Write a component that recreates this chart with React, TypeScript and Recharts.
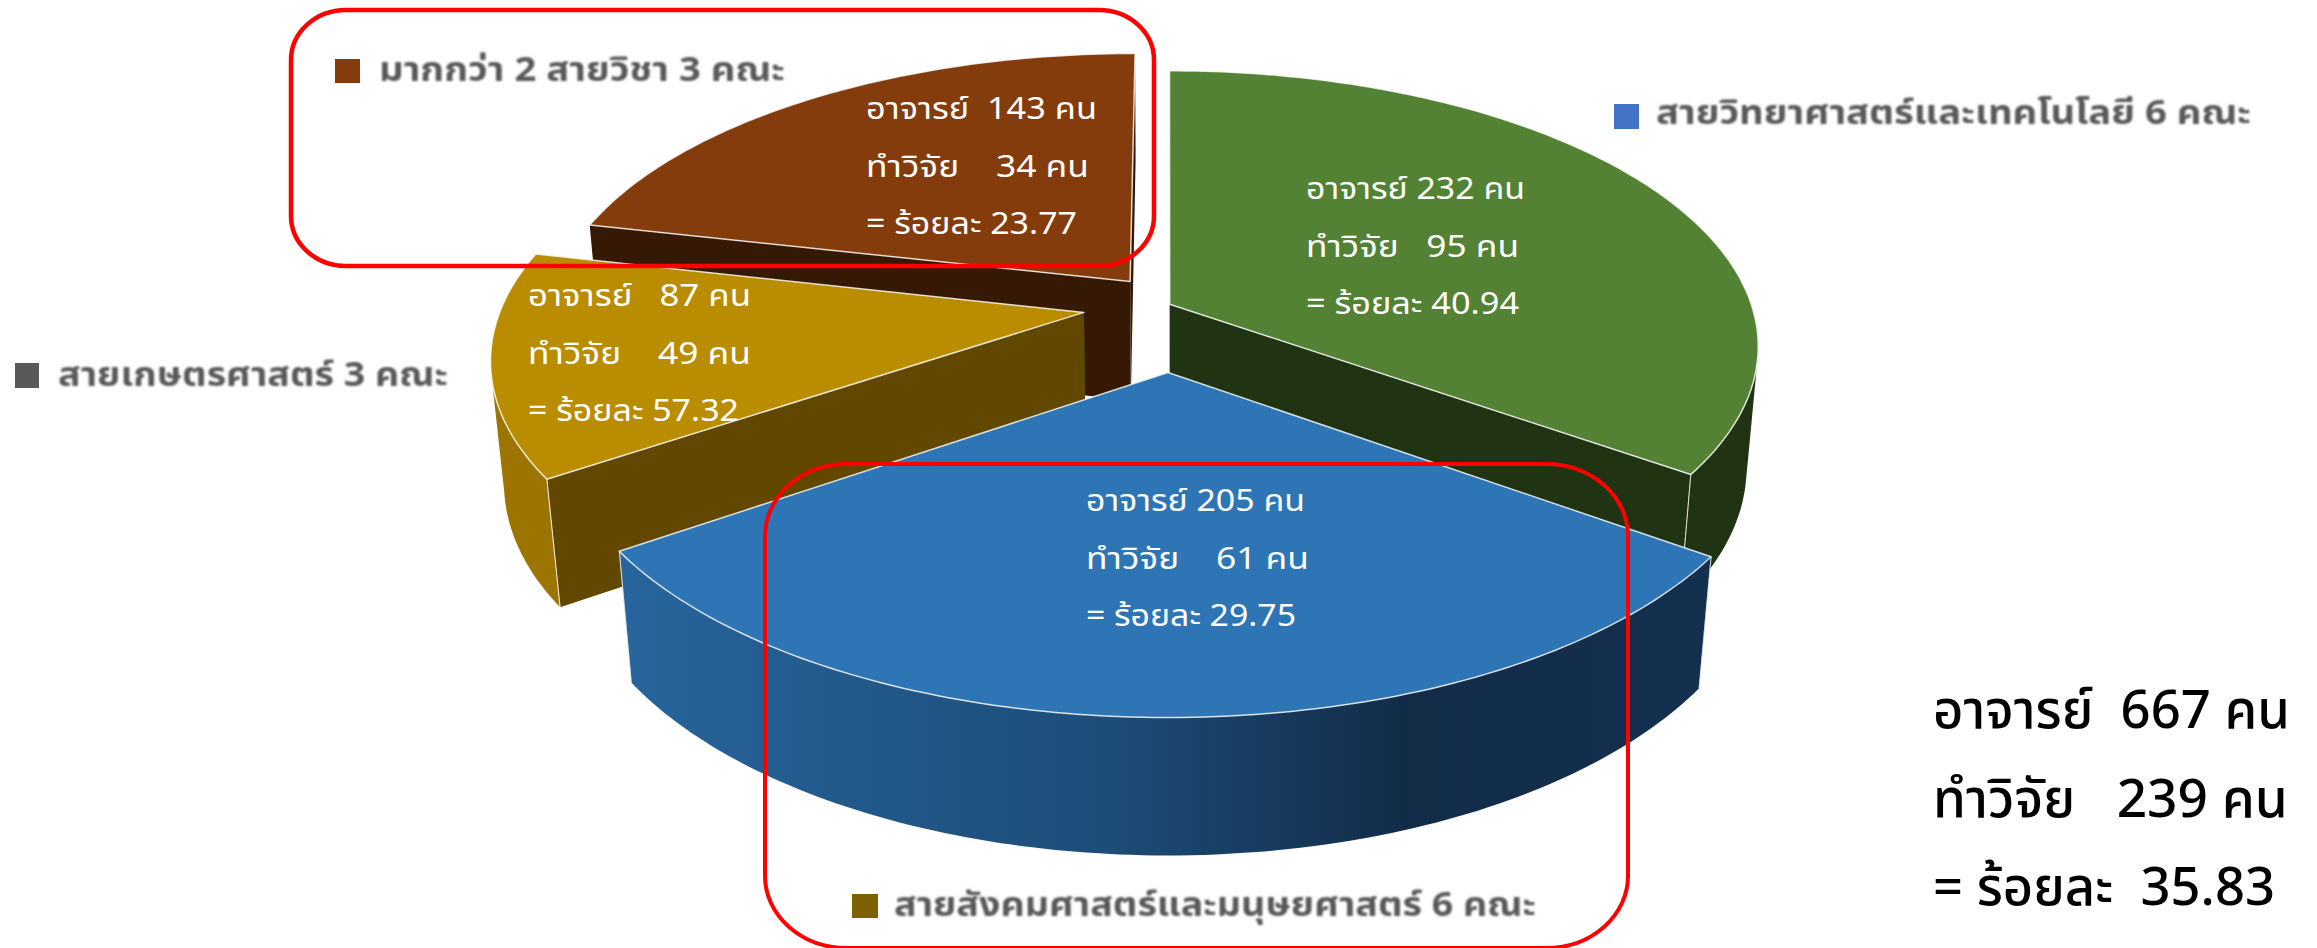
import { PieChart, Pie } from "recharts";

const categories = ["วิทยาศาสตร์", "มากกว่า 2 สายวิชา", "เกษตรศาสตร์", "สังคมศาสตร์"];
const teachers = [232, 143, 87, 205];
const teacherLabels = ["อาจารย์ 232 คน", "อาจารย์  143 คน", "อาจารย์   87 คน", "อาจารย์ 205 คน"];
const researchLabels = ["ทำวิจัย   95 คน", "ทำวิจัย    34 คน", "ทำวิจัย    49 คน", "ทำวิจัย    61 คน"];
const percentLabels = ["= ร้อยละ 40.94", "= ร้อยละ 23.77", "= ร้อยละ 57.32", "= ร้อยละ 29.75"];
const totalLabels = ["อาจารย์  667 คน", "ทำวิจัย   239 คน", "= ร้อยละ  35.83"];

const legendNames = [
  "สายวิทยาศาสตร์และเทคโนโลยี 6 คณะ",
  "มากกว่า 2 สายวิชา 3 คณะ",
  "สายเกษตรศาสตร์ 3 คณะ",
  "สายสังคมศาสตร์และมนุษยศาสตร์ 6 คณะ",
];
const legendColors = ["#4472C4", "#843C0C", "#595959", "#7F6000"];

const chartData = categories.map((name, i) => ({ name, value: teachers[i] }));
const total = teachers.reduce((a, b) => a + b, 0);

// slices are laid out counter-clockwise so blue is painted last, on top
const START_ANGLE = 90 - (360 * teachers[0]) / total;

const FONT = "'Noto Sans Thai', 'Noto Sans', 'DejaVu Sans', sans-serif";

// fake 3d camera
const CX = 1168;
const CY = 333;
const RADIUS = 591;
const SQUASH = 278 / 591;
const PERSP = 0.155;
const SINK = 0.02;
const DEPTH = 124;

const topColors = ["#548235", "#843C0C", "#BA8C00", "#2E75B6"];
const cutColors = ["#203413", "#361904", "#614700", "#1F4E79"];
const wallColors = ["#203413", "#361904", "#9C7500", "url(#blueWall)"];
const explode = [
  [0.003, 0.105],
  [-0.066, 0.191],
  [-0.144, 0.075],
  [0.0, -0.139],
];
const labelAt = [
  [1306, 190],
  [866, 110],
  [528, 297],
  [1086, 502],
];
const labelWidths = [
  [219, 213, 213],
  [231, 223, 211],
  [223, 223, 211],
  [219, 223, 210],
];
const totalWidths = [357, 355, 342];

function project(u: number, v: number, z: number) {
  const w = 1 / (1 + PERSP * v + SINK * z);
  return [CX + RADIUS * u * w, CY + (-RADIUS * SQUASH * v + DEPTH * z) * w];
}

function toPath(points: number[][]) {
  return "M" + points.map((p) => `${p[0].toFixed(1)},${p[1].toFixed(1)}`).join("L") + "Z";
}

function arc(index: number, from: number, to: number, z: number) {
  const [u0, v0] = explode[index];
  const pts: number[][] = [];
  const steps = Math.max(2, Math.ceil(Math.abs(to - from)));
  for (let i = 0; i <= steps; i++) {
    const a = ((from + ((to - from) * i) / steps) * Math.PI) / 180;
    pts.push(project(u0 + Math.cos(a), v0 + Math.sin(a), z));
  }
  return pts;
}

// outer wall only where the rim faces the camera
function frontRanges(start: number, end: number) {
  const out: number[][] = [];
  for (const k of [-360, 0, 360]) {
    const a = Math.max(start, 191.5 + k);
    const b = Math.min(end, 348.5 + k);
    if (b > a) out.push([a, b]);
  }
  return out;
}

function Slice3D(props: any) {
  const { startAngle, endAngle, index } = props;
  const [u0, v0] = explode[index];
  const apexTop = project(u0, v0, 0);
  const apexBottom = project(u0, v0, 1);
  const corner = (angle: number, z: number) => arc(index, angle, angle, z)[0];
  const cut = (angle: number) =>
    toPath([apexTop, corner(angle, 0), corner(angle, 1), apexBottom]);
  const ranges = frontRanges(startAngle, endAngle);
  return (
    <g>
      <path d={cut(startAngle)} fill={cutColors[index]} />
      <path d={cut(endAngle)} fill={cutColors[index]} />
      {ranges.map(([a, b]) => (
        <path
          key={a}
          d={toPath([...arc(index, a, b, 0), ...arc(index, b, a, 1)])}
          fill={wallColors[index]}
        />
      ))}
      {ranges.flat().filter((a) => a === startAngle || a === endAngle).map((a) => (
        <path
          key={a}
          d={toPath([corner(a, 0), corner(a, 1)])}
          stroke="#fff"
          strokeOpacity={0.55}
          strokeWidth={1}
          fill="none"
        />
      ))}
      <path
        d={toPath([apexTop, ...arc(index, startAngle, endAngle, 0)])}
        fill={topColors[index]}
        stroke="#fff"
        strokeOpacity={0.8}
        strokeWidth={1.5}
        strokeLinejoin="round"
      />
    </g>
  );
}

function SliceLabel(props: any) {
  const { index } = props;
  const [x, y] = labelAt[index];
  const lines = [teacherLabels[index], researchLabels[index], percentLabels[index]];
  return (
    <g>
      {lines.map((t, i) => (
        <text
          key={i}
          x={x}
          y={y + i * 57.5}
          fill="#fff"
          fontFamily={FONT}
          fontSize={30}
          dominantBaseline="central"
          textLength={labelWidths[index][i]}
          lengthAdjust="spacingAndGlyphs"
          style={{ whiteSpace: "pre" }}
        >
          {t}
        </text>
      ))}
    </g>
  );
}

const legendBoxes = [
  { sx: 1614, sy: 104, sw: 25, sh: 25, tx: 1656, ty: 113, tw: 595 },
  { sx: 335, sy: 59, sw: 25, sh: 24, tx: 379, ty: 70, tw: 406 },
  { sx: 15, sy: 363, sw: 24, sh: 25, tx: 58, ty: 375, tw: 390 },
  { sx: 852, sy: 894, sw: 26, sh: 24, tx: 894, ty: 905, tw: 642 },
];

export default function App() {
  return (
    <div style={{ position: "absolute", left: 0, top: 0, width: 2317, height: 948, overflow: "hidden", background: "#fff" }}>
      <PieChart width={2317} height={948} margin={{ top: 0, right: 0, bottom: 0, left: 0 }}>
        <defs>
          <linearGradient id="blueWall" x1="0" y1="0" x2="1" y2="0">
            <stop offset="0" stopColor="#27659C" />
            <stop offset="0.45" stopColor="#1D4C78" />
            <stop offset="0.72" stopColor="#122C48" />
            <stop offset="1" stopColor="#14304F" />
          </linearGradient>
        </defs>
        <Pie
          data={chartData}
          dataKey="value"
          cx={CX}
          cy={CY}
          outerRadius={RADIUS}
          startAngle={START_ANGLE}
          endAngle={START_ANGLE + 360}
          stroke="none"
          isAnimationActive={false}
          shape={Slice3D}
          label={SliceLabel}
          labelLine={false}
        />
      </PieChart>
      <svg width={2317} height={948} style={{ position: "absolute", left: 0, top: 0 }}>
        <defs>
          <filter id="soft">
            <feGaussianBlur stdDeviation="0.9" />
          </filter>
        </defs>
        {legendNames.map((name, i) => {
          const b = legendBoxes[i];
          return (
            <g key={name}>
              <rect x={b.sx} y={b.sy} width={b.sw} height={b.sh} fill={legendColors[i]} />
              <text
                x={b.tx}
                y={b.ty}
                fill="#595959"
                fontFamily={FONT}
                fontWeight={700}
                fontSize={34}
                dominantBaseline="central"
                textLength={b.tw}
                lengthAdjust="spacingAndGlyphs"
                filter="url(#soft)"
              >
                {name}
              </text>
            </g>
          );
        })}
        {totalLabels.map((t, i) => (
          <text
            key={t}
            x={1933}
            y={712 + i * 88.5}
            fill="#000"
            fontFamily={FONT}
            fontWeight={500}
            fontSize={53}
            dominantBaseline="central"
            textLength={totalWidths[i]}
            lengthAdjust="spacingAndGlyphs"
            style={{ whiteSpace: "pre" }}
          >
            {t}
          </text>
        ))}
        <rect x={291} y={10} width={863} height={256} rx={55} ry={50} fill="none" stroke="#FF0000" strokeWidth={4.5} />
        <rect x={765} y={464} width={863} height={484} rx={82} ry={72} fill="none" stroke="#FF0000" strokeWidth={4} />
      </svg>
    </div>
  );
}
